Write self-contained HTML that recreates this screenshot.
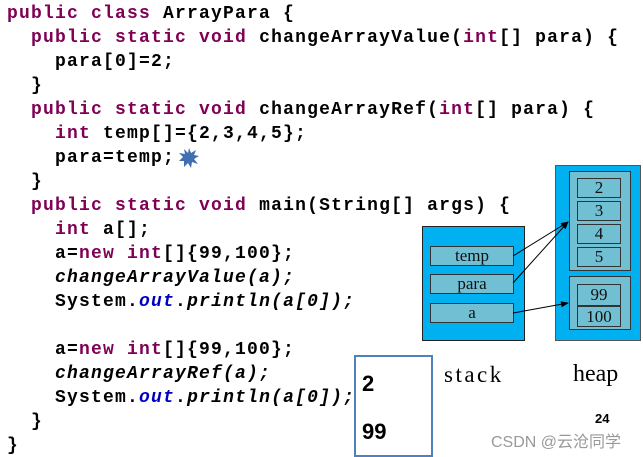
<!DOCTYPE html>
<html><head><meta charset="utf-8"><style>
html,body{margin:0;padding:0;width:643px;height:457px;background:#fff;overflow:hidden;position:relative}
.c{position:absolute;left:7px;top:0;font-family:"Liberation Mono",monospace;font-weight:bold;font-size:18px;letter-spacing:1.2px;line-height:24px;white-space:pre;color:#000}
.k{color:#7f0055}.o{color:#0000c0;font-style:italic}.i{font-style:italic}
.b{position:absolute;box-sizing:border-box}
.cell{position:absolute;box-sizing:border-box;background:#71bfd2;border:1px solid #333;font-family:"Liberation Serif",serif;font-size:17px;text-align:center;color:#111}
.t{position:absolute;font-family:"Liberation Serif",serif;font-size:23px;color:#000}
</style></head><body>
<div class="c" style="top:2px"><span class="k">public class</span> ArrayPara {
  <span class="k">public static void</span> changeArrayValue(<span class="k">int</span>[] para) {
    para[0]=2;
  }
  <span class="k">public static void</span> changeArrayRef(<span class="k">int</span>[] para) {
    <span class="k">int</span> temp[]={2,3,4,5};
    para=temp;
  }
  <span class="k">public static void</span> main(String[] args) {
    <span class="k">int</span> a[];
    a=<span class="k">new int</span>[]{99,100};
    <span class="i">changeArrayValue(a);</span>
    System.<span class="o">out</span>.<span class="i">println(a[0]);</span>

    a=<span class="k">new int</span>[]{99,100};
    <span class="i">changeArrayRef(a);</span>
    System.<span class="o">out</span>.<span class="i">println(a[0]);</span>
  }
}</div>
<svg style="position:absolute;left:178px;top:147px" width="22" height="22" viewBox="0 0 22 22"><polygon points="11,1 13,6 18,3 16,8 21,9 16,12 20,17 14,15 13,21 10,16 6,20 6,14 1,14 5,10 1,6 7,7 6,2 10,6" fill="#3f6fb0"/></svg>
<div class="b" style="left:422px;top:226px;width:103px;height:115px;background:#00b0f0;border:1px solid #222"></div>
<div class="cell" style="left:430px;top:246px;width:84px;height:20px;line-height:18px">temp</div>
<div class="cell" style="left:430px;top:274px;width:84px;height:20px;line-height:18px">para</div>
<div class="cell" style="left:430px;top:303px;width:84px;height:20px;line-height:18px">a</div>
<div class="b" style="left:555px;top:165px;width:86px;height:176px;background:#00b0f0;border:1px solid #555"></div>
<div class="b" style="left:569px;top:171px;width:62px;height:100px;background:#71bfd2;border:1px solid #333"></div>
<div class="cell" style="left:577px;top:178px;width:44px;height:20px;line-height:18px">2</div>
<div class="cell" style="left:577px;top:201px;width:44px;height:20px;line-height:18px">3</div>
<div class="cell" style="left:577px;top:224px;width:44px;height:20px;line-height:18px">4</div>
<div class="cell" style="left:577px;top:247px;width:44px;height:20px;line-height:18px">5</div>
<div class="b" style="left:569px;top:276px;width:62px;height:54px;background:#71bfd2;border:1px solid #333"></div>
<div class="cell" style="left:577px;top:284px;width:44px;height:22px;line-height:20px">99</div>
<div class="cell" style="left:577px;top:306px;width:44px;height:21px;line-height:19px">100</div>
<svg style="position:absolute;left:0;top:0" width="643" height="457">
<defs><marker id="m" markerWidth="8" markerHeight="8" refX="7" refY="4" orient="auto" markerUnits="userSpaceOnUse"><path d="M0,1 L8,4 L0,7 z" fill="#000"/></marker></defs>
<line x1="513" y1="256" x2="568" y2="222" stroke="#000" stroke-width="1" marker-end="url(#m)"/>
<line x1="513" y1="283" x2="568" y2="222" stroke="#000" stroke-width="1" marker-end="url(#m)"/>
<line x1="513" y1="313" x2="568" y2="303" stroke="#000" stroke-width="1" marker-end="url(#m)"/>
</svg>
<div class="b" style="left:354px;top:355px;width:79px;height:102px;border:2px solid #4f81bd;background:#fff"></div>
<div style="position:absolute;left:362px;top:371px;font:bold 22px 'Liberation Sans',sans-serif">2</div>
<div style="position:absolute;left:362px;top:419px;font:bold 22px 'Liberation Sans',sans-serif">99</div>
<div class="t" style="left:444px;top:362px;letter-spacing:2.5px">stack</div>
<div class="t" style="left:573px;top:361px;font-size:24px">heap</div>
<div style="position:absolute;left:595px;top:411px;font:bold 13px 'Liberation Sans',sans-serif">24</div>
<div style="position:absolute;left:491px;top:428px;font:16px 'Liberation Sans','Noto Sans CJK SC',sans-serif;color:#999">CSDN @云沧同学</div>
</body></html>
